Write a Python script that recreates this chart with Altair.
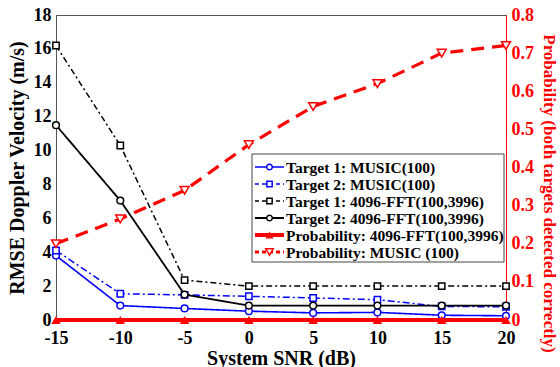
import altair as alt
import pandas as pd

snr = [-15, -10, -5, 0, 5, 10, 15, 20]
t1_music = [3.8, 0.85, 0.68, 0.52, 0.42, 0.45, 0.28, 0.25]
t2_music = [4.1, 1.55, 1.48, 1.40, 1.30, 1.20, 0.80, 0.78]
t1_fft = [16.2, 10.3, 2.35, 2.0, 2.0, 2.0, 2.0, 2.0]
t2_fft = [11.5, 7.05, 1.5, 0.85, 0.85, 0.85, 0.85, 0.85]
prob_fft = [0, 0, 0, 0, 0, 0, 0, 0]
prob_music = [0.20, 0.265, 0.34, 0.46, 0.56, 0.62, 0.70, 0.72]

labels = [
    "Target 1: MUSIC(100)",
    "Target 2: MUSIC(100)",
    "Target 1: 4096-FFT(100,3996)",
    "Target 2: 4096-FFT(100,3996)",
    "Probability: 4096-FFT(100,3996)",
    "Probability: MUSIC (100)",
]

FONT = "Liberation Serif"
BLUE = "#0000ff"
RED = "#ff0000"
BLACK = "#000000"

styles = [
    dict(color=BLUE, dash=[1, 0], shape="circle", width=1.6, filled=False, size=45),
    dict(color=BLUE, dash=[7, 3, 2, 3], shape="square", width=1.5, filled=False, size=40),
    dict(color=BLACK, dash=[6, 3, 2, 3], shape="square", width=1.5, filled=False, size=40),
    dict(color=BLACK, dash=[1, 0], shape="circle", width=1.8, filled=False, size=45),
    dict(color=RED, dash=[1, 0], shape="triangle-up", width=4, filled=True, size=90),
    dict(color=RED, dash=[13, 8], shape="triangle-down", width=3.2, filled=False, size=80),
]

series = [t1_music, t2_music, t1_fft, t2_fft, prob_fft, prob_music]

x_enc = alt.X(
    "snr:Q",
    scale=alt.Scale(domain=[-15, 20], nice=False),
    axis=alt.Axis(
        values=snr, title="System SNR (dB)", labelExpr="'' + datum.value",
        grid=False, ticks=False, domainColor="#555555", labelFlush=False,
        labelPadding=9, titlePadding=1,
    ),
)


def series_layers(vals, st, yscale, yaxis):
    df = pd.DataFrame({"snr": snr, "v": vals})
    y_enc = alt.Y("v:Q", scale=yscale, axis=yaxis)
    line = alt.Chart(df).mark_line(
        color=st["color"], strokeDash=st["dash"], strokeWidth=st["width"], clip=False
    ).encode(x=x_enc, y=y_enc)
    pt = alt.Chart(df).mark_point(
        shape=st["shape"], filled=st["filled"], color=st["color"],
        fill=st["color"] if st["filled"] else "white",
        fillOpacity=1, size=st["size"], strokeWidth=1.5, opacity=1, clip=False
    ).encode(x=x_enc, y=y_enc)
    return [line, pt]


left_scale = alt.Scale(domain=[0, 18], nice=False)
left_axis = alt.Axis(
    title="RMSE Doppler Velocity (m/s)", values=list(range(0, 19, 2)),
    grid=False, ticks=False, domainColor="#555555", titlePadding=6,
    titleFontSize=20,
)
right_scale = alt.Scale(domain=[0, 0.8], nice=False)
right_axis = alt.Axis(
    orient="right", title="Probability (both targets detected correctly)",
    values=[0, 0.1, 0.2, 0.3, 0.4, 0.5, 0.6, 0.7, 0.8],
    labelExpr="datum.value == 0 ? '0' : format(datum.value, '.1f')",
    grid=False, ticks=False, domainColor=RED, labelColor=RED, titleColor=RED,
    titleFontSize=17, titlePadding=6, titleY=178,
)

left_layers = []
for i in range(4):
    left_layers += series_layers(series[i], styles[i], left_scale, left_axis)
right_layers = []
for i in [5, 4]:
    right_layers += series_layers(series[i], styles[i], right_scale, right_axis)

left = alt.layer(*left_layers)
right = alt.layer(*right_layers)

# Legend (drawn in pixel coordinates of the plot area)
one = pd.DataFrame({"a": [0]})
bx0, bx1, by0, by1 = 196, 448, 139, 247
legend_layers = [
    alt.Chart(one).mark_rect(fill="white", stroke="#444444", strokeWidth=1).encode(
        x=alt.value(bx0), x2=alt.value(bx1), y=alt.value(by0), y2=alt.value(by1)
    )
]
row0, dy = 152, 17
for i, (lab, st) in enumerate(zip(labels, styles)):
    yy = row0 + i * dy
    legend_layers.append(
        alt.Chart(one).mark_rule(
            color=st["color"], strokeDash=[4, 3] if st["dash"] != [1, 0] else [1, 0],
            strokeWidth=st["width"]
        ).encode(x=alt.value(bx0 + 3), x2=alt.value(bx0 + 32), y=alt.value(yy))
    )
    legend_layers.append(
        alt.Chart(one).mark_point(
            shape=st["shape"], filled=st["filled"], color=st["color"],
            fill=st["color"] if st["filled"] else "white", fillOpacity=1,
            size=st["size"] * 0.7, strokeWidth=1.5, opacity=1,
        ).encode(x=alt.value(bx0 + 17.5), y=alt.value(yy))
    )
    legend_layers.append(
        alt.Chart(one).mark_text(
            align="left", baseline="middle", font=FONT, fontWeight="bold",
            fontSize=15.5, color="black",
        ).encode(x=alt.value(bx0 + 34), y=alt.value(yy + 1), text=alt.value(lab))
    )
legend = alt.layer(*legend_layers)

chart = (
    alt.layer(left, right, legend)
    .resolve_scale(y="independent")
    .properties(
        width=450, height=305,
        autosize=alt.AutoSizeParams(type="none"),
        padding={"left": 56, "top": 15, "right": 54, "bottom": 47},
        background="white",
    )
    .configure_view(stroke="#555555", strokeWidth=1)
    .configure_axis(
        labelFont=FONT, titleFont=FONT, labelFontWeight="bold", titleFontWeight="bold",
        labelFontSize=18, titleFontSize=20, labelColor="black", titleColor="black",
        labelPadding=5,
    )
)

chart.save("out.html", embed_options={"renderer": "svg", "actions": False})
